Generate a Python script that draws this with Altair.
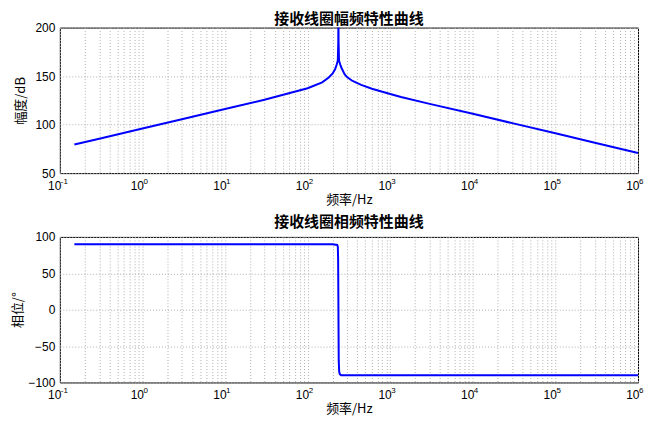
import altair as alt
import pandas as pd

# ---- data ----
freq_mag = [0.15, 0.3, 1, 3, 10, 30, 100, 150, 180, 200, 215, 225, 232, 235, 236, 237,
            240, 250, 260, 280, 300, 350, 445, 600, 1000, 1350, 3000, 10000, 30000,
            100000, 300000, 1000000]
mag_db = [79.5, 85.5, 96, 105.5, 116, 125.6, 137.5, 143.5, 148.5, 152.5, 157, 162, 166, 185, 215, 185,
          166, 161, 157.5, 152, 149, 145, 141, 137, 131.5, 128.5, 121.4, 111.2, 101.5,
          91, 81.4, 70.8]

freq_phase = [0.15, 100, 200, 228, 232, 234, 235.5, 236, 236.5, 238, 241, 245, 255, 1000000]
phase_deg = [90, 90, 89.8, 89, 87, 70, 20, 0, -20, -70, -85, -88.5, -90, -90]

decades = [-1, 0, 1, 2, 3, 4, 5, 6]
decade_values = [0.1, 1, 10, 100, 1000, 10000, 100000, 1000000]
exponent_labels = ["-1", "0", "1", "2", "3", "4", "5", "6"]
x_grid = [round(m * 10.0 ** k, 6) for k in decades[:-1] for m in range(1, 10)] + [1e6]

mag_ticks = [50, 100, 150, 200]
phase_ticks = [-100, -50, 0, 50, 100]

title_mag = "接收线圈幅频特性曲线"
title_phase = "接收线圈相频特性曲线"
x_title = "频率/Hz"
y_title_mag = "幅度/dB"
y_title_phase = "相位/°"

mag_df = pd.DataFrame({"f": freq_mag, "v": mag_db})
phase_df = pd.DataFrame({"f": freq_phase, "v": phase_deg})
exp_df = pd.DataFrame({"f": decade_values, "e": exponent_labels})

LAT = "Liberation Sans, Arial, sans-serif"
CJK = "Noto Sans CJK SC"

label_expr = "indexof([0.1,1,10,100,1000,10000,100000,1000000], datum.value) >= 0 ? '10' : ''"

W, H = 580, 146
GRID = "#b0b0b0"


def x_axis():
    return alt.Axis(values=x_grid, labelExpr=label_expr, title=x_title, grid=True,
                    gridDash=[1, 2], gridColor=GRID, gridWidth=1, ticks=False, domain=False,
                    labelFont=LAT, labelFontSize=12, labelColor="black", labelPadding=7,
                    labelAlign="right", labelOffset=1,
                    labelOverlap=False, labelFlush=False, titleFont=CJK, titleFontSize=13,
                    titleFontWeight="normal", titleColor="black", titlePadding=2)


def y_axis(vals, title, tpad):
    return alt.Axis(values=vals, title=title, grid=True, gridDash=[1, 2], gridColor=GRID,
                    gridWidth=1, ticks=False, domain=False, labelFont=LAT, labelFontSize=12,
                    labelColor="black", labelPadding=5, labelOverlap=False, labelFlush=False,
                    titleFont=CJK, titleFontSize=13, titleFontWeight="normal", titleColor="black",
                    titlePadding=tpad)


xscale = alt.Scale(type="log", domain=[0.1, 1e6], nice=False)


def panel(df, ydomain, yticks, ytitle, tpad, title, toff):
    line = alt.Chart(df).mark_line(color="#0000ff", strokeWidth=2, clip=True).encode(
        x=alt.X("f:Q", scale=xscale, axis=x_axis()),
        y=alt.Y("v:Q", scale=alt.Scale(domain=ydomain, nice=False, zero=False),
                axis=y_axis(yticks, ytitle, tpad)),
        order="f:Q",
    )
    expo = alt.Chart(exp_df).mark_text(font=LAT, fontSize=8, align="left", baseline="top",
                                       color="black", dx=1).encode(
        x=alt.X("f:Q", scale=xscale),
        y=alt.value(H + 5),
        text="e:N",
    )
    return alt.layer(line, expo).properties(
        width=W, height=H,
        title=alt.TitleParams(title, font=CJK, fontSize=15, fontWeight="bold",
                              color="black", offset=toff, anchor="middle"))


top = panel(mag_df, [50, 200], mag_ticks, y_title_mag, 7, title_mag, -5)
bottom = panel(phase_df, [-100, 100], phase_ticks, y_title_phase, 3, title_phase, 1)

chart = alt.vconcat(top, bottom, spacing=7).properties(
    padding={"left": 3, "top": 2, "right": 0, "bottom": 0},
    background="white",
).configure_view(stroke="black", strokeWidth=1)

chart.save("out.html", embed_options={"renderer": "svg", "actions": False})
